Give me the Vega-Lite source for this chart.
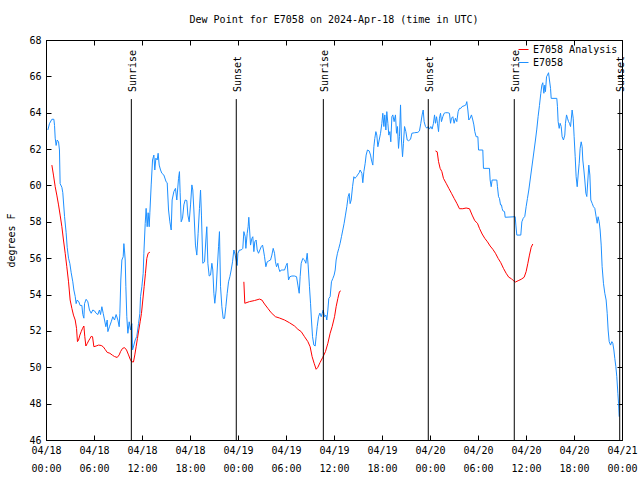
{
  "$schema": "https://vega.github.io/schema/vega-lite/v6.json",
  "width": 576,
  "height": 400,
  "autosize": "none",
  "padding": {"left": 46, "top": 40, "right": 18, "bottom": 40},
  "background": "white",
  "title": {"text": "Dew Point for E7058 on 2024-Apr-18 (time in UTC)", "font": "DejaVu Sans Mono", "fontSize": 10, "fontWeight": "normal", "color": "black", "offset": 10},
  "config": {"view": {"stroke": "black", "strokeWidth": 1}},
  "datasets": {
    "obs": [
      {"t":"2024-04-18T00:14Z","v":63.05},{"t":"2024-04-18T00:26Z","v":63.4},{"t":"2024-04-18T00:44Z","v":63.64},{"t":"2024-04-18T00:59Z","v":63.64},{"t":"2024-04-18T01:04Z","v":63.3},{"t":"2024-04-18T01:09Z","v":62.6},{"t":"2024-04-18T01:16Z","v":62.2},{"t":"2024-04-18T01:24Z","v":62.5},{"t":"2024-04-18T01:34Z","v":62.4},{"t":"2024-04-18T01:41Z","v":61.95},{"t":"2024-04-18T01:46Z","v":60.1},{"t":"2024-04-18T01:59Z","v":59.9},{"t":"2024-04-18T02:06Z","v":59.6},{"t":"2024-04-18T02:19Z","v":58.3},{"t":"2024-04-18T02:31Z","v":57.4},{"t":"2024-04-18T02:39Z","v":56.6},{"t":"2024-04-18T02:49Z","v":56.0},{"t":"2024-04-18T02:59Z","v":55.7},{"t":"2024-04-18T03:09Z","v":55.2},{"t":"2024-04-18T03:21Z","v":54.7},{"t":"2024-04-18T03:29Z","v":54.25},{"t":"2024-04-18T03:39Z","v":53.9},{"t":"2024-04-18T03:46Z","v":53.5},{"t":"2024-04-18T03:54Z","v":53.7},{"t":"2024-04-18T04:06Z","v":53.6},{"t":"2024-04-18T04:16Z","v":53.4},{"t":"2024-04-18T04:29Z","v":53.4},{"t":"2024-04-18T04:36Z","v":52.9},{"t":"2024-04-18T04:44Z","v":52.7},{"t":"2024-04-18T04:49Z","v":53.5},{"t":"2024-04-18T05:01Z","v":53.74},{"t":"2024-04-18T05:14Z","v":53.6},{"t":"2024-04-18T05:26Z","v":53.15},{"t":"2024-04-18T05:39Z","v":52.97},{"t":"2024-04-18T05:51Z","v":53.15},{"t":"2024-04-18T06:04Z","v":53.1},{"t":"2024-04-18T06:16Z","v":52.97},{"t":"2024-04-18T06:29Z","v":52.9},{"t":"2024-04-18T06:41Z","v":53.15},{"t":"2024-04-18T06:49Z","v":52.9},{"t":"2024-04-18T06:59Z","v":53.33},{"t":"2024-04-18T07:09Z","v":52.97},{"t":"2024-04-18T07:19Z","v":52.6},{"t":"2024-04-18T07:29Z","v":52.23},{"t":"2024-04-18T07:39Z","v":52.6},{"t":"2024-04-18T07:44Z","v":51.96},{"t":"2024-04-18T07:56Z","v":52.23},{"t":"2024-04-18T08:09Z","v":52.5},{"t":"2024-04-18T08:21Z","v":52.78},{"t":"2024-04-18T08:34Z","v":52.6},{"t":"2024-04-18T08:46Z","v":52.9},{"t":"2024-04-18T08:59Z","v":52.6},{"t":"2024-04-18T09:09Z","v":52.23},{"t":"2024-04-18T09:14Z","v":52.97},{"t":"2024-04-18T09:21Z","v":54.8},{"t":"2024-04-18T09:29Z","v":55.9},{"t":"2024-04-18T09:39Z","v":56.08},{"t":"2024-04-18T09:44Z","v":56.8},{"t":"2024-04-18T09:49Z","v":56.4},{"t":"2024-04-18T09:54Z","v":55.9},{"t":"2024-04-18T09:59Z","v":54.43},{"t":"2024-04-18T10:06Z","v":52.78},{"t":"2024-04-18T10:14Z","v":51.87},{"t":"2024-04-18T10:24Z","v":52.5},{"t":"2024-04-18T10:34Z","v":52.05},{"t":"2024-04-18T10:44Z","v":52.4},{"t":"2024-04-18T10:49Z","v":50.95},{"t":"2024-04-18T10:59Z","v":51.22},{"t":"2024-04-18T11:09Z","v":51.5},{"t":"2024-04-18T11:21Z","v":51.7},{"t":"2024-04-18T11:34Z","v":52.4},{"t":"2024-04-18T11:44Z","v":52.97},{"t":"2024-04-18T11:49Z","v":53.9},{"t":"2024-04-18T11:59Z","v":54.43},{"t":"2024-04-18T12:09Z","v":55.17},{"t":"2024-04-18T12:14Z","v":56.27},{"t":"2024-04-18T12:24Z","v":57.9},{"t":"2024-04-18T12:31Z","v":58.74},{"t":"2024-04-18T12:39Z","v":57.73},{"t":"2024-04-18T12:46Z","v":58.5},{"t":"2024-04-18T12:54Z","v":57.73},{"t":"2024-04-18T12:59Z","v":58.5},{"t":"2024-04-18T13:09Z","v":60.03},{"t":"2024-04-18T13:19Z","v":61.4},{"t":"2024-04-18T13:29Z","v":61.67},{"t":"2024-04-18T13:36Z","v":60.85},{"t":"2024-04-18T13:44Z","v":61.5},{"t":"2024-04-18T13:54Z","v":61.4},{"t":"2024-04-18T14:01Z","v":61.77},{"t":"2024-04-18T14:09Z","v":61.12},{"t":"2024-04-18T14:19Z","v":60.85},{"t":"2024-04-18T14:29Z","v":60.67},{"t":"2024-04-18T14:44Z","v":60.57},{"t":"2024-04-18T15:01Z","v":60.2},{"t":"2024-04-18T15:09Z","v":60.15},{"t":"2024-04-18T15:19Z","v":58.65},{"t":"2024-04-18T15:29Z","v":58.0},{"t":"2024-04-18T15:39Z","v":57.55},{"t":"2024-04-18T15:46Z","v":59.2},{"t":"2024-04-18T15:59Z","v":59.66},{"t":"2024-04-18T16:11Z","v":59.84},{"t":"2024-04-18T16:21Z","v":59.2},{"t":"2024-04-18T16:34Z","v":60.39},{"t":"2024-04-18T16:41Z","v":60.76},{"t":"2024-04-18T16:46Z","v":59.6},{"t":"2024-04-18T16:54Z","v":58.0},{"t":"2024-04-18T17:04Z","v":58.2},{"t":"2024-04-18T17:14Z","v":58.93},{"t":"2024-04-18T17:24Z","v":59.2},{"t":"2024-04-18T17:36Z","v":59.17},{"t":"2024-04-18T17:44Z","v":58.37},{"t":"2024-04-18T17:54Z","v":58.0},{"t":"2024-04-18T18:04Z","v":58.93},{"t":"2024-04-18T18:14Z","v":60.03},{"t":"2024-04-18T18:21Z","v":59.75},{"t":"2024-04-18T18:29Z","v":58.65},{"t":"2024-04-18T18:41Z","v":56.72},{"t":"2024-04-18T18:51Z","v":56.17},{"t":"2024-04-18T19:01Z","v":57.37},{"t":"2024-04-18T19:11Z","v":58.74},{"t":"2024-04-18T19:19Z","v":59.75},{"t":"2024-04-18T19:26Z","v":58.37},{"t":"2024-04-18T19:36Z","v":55.72},{"t":"2024-04-18T19:49Z","v":55.8},{"t":"2024-04-18T19:59Z","v":57.0},{"t":"2024-04-18T20:06Z","v":57.73},{"t":"2024-04-18T20:14Z","v":55.72},{"t":"2024-04-18T20:24Z","v":55.02},{"t":"2024-04-18T20:34Z","v":55.07},{"t":"2024-04-18T20:44Z","v":55.72},{"t":"2024-04-18T20:51Z","v":55.35},{"t":"2024-04-18T20:59Z","v":54.07},{"t":"2024-04-18T21:06Z","v":53.52},{"t":"2024-04-18T21:16Z","v":54.25},{"t":"2024-04-18T21:24Z","v":55.35},{"t":"2024-04-18T21:34Z","v":56.63},{"t":"2024-04-18T21:41Z","v":57.46},{"t":"2024-04-18T21:49Z","v":54.43},{"t":"2024-04-18T21:59Z","v":53.33},{"t":"2024-04-18T22:09Z","v":52.69},{"t":"2024-04-18T22:19Z","v":52.69},{"t":"2024-04-18T22:29Z","v":53.33},{"t":"2024-04-18T22:39Z","v":54.07},{"t":"2024-04-18T22:49Z","v":54.7},{"t":"2024-04-18T22:59Z","v":54.98},{"t":"2024-04-18T23:09Z","v":55.35},{"t":"2024-04-18T23:19Z","v":55.8},{"t":"2024-04-18T23:29Z","v":56.45},{"t":"2024-04-18T23:39Z","v":56.17},{"t":"2024-04-18T23:46Z","v":55.9},{"t":"2024-04-18T23:54Z","v":55.6},{"t":"2024-04-18T23:59Z","v":56.27},
      {"t":"2024-04-19T00:11Z","v":56.45},{"t":"2024-04-19T00:24Z","v":56.45},{"t":"2024-04-19T00:36Z","v":56.54},{"t":"2024-04-19T00:44Z","v":57.46},{"t":"2024-04-19T00:54Z","v":57.18},{"t":"2024-04-19T00:59Z","v":56.54},{"t":"2024-04-19T01:09Z","v":57.37},{"t":"2024-04-19T01:16Z","v":57.73},{"t":"2024-04-19T01:21Z","v":58.25},{"t":"2024-04-19T01:27Z","v":57.55},{"t":"2024-04-19T01:34Z","v":56.72},{"t":"2024-04-19T01:44Z","v":57.09},{"t":"2024-04-19T01:51Z","v":57.18},{"t":"2024-04-19T01:59Z","v":56.36},{"t":"2024-04-19T02:06Z","v":56.9},{"t":"2024-04-19T02:16Z","v":57.0},{"t":"2024-04-19T02:24Z","v":56.45},{"t":"2024-04-19T02:34Z","v":56.27},{"t":"2024-04-19T02:44Z","v":56.45},{"t":"2024-04-19T02:54Z","v":56.63},{"t":"2024-04-19T03:04Z","v":56.72},{"t":"2024-04-19T03:11Z","v":56.45},{"t":"2024-04-19T03:19Z","v":56.08},{"t":"2024-04-19T03:29Z","v":55.53},{"t":"2024-04-19T03:39Z","v":55.8},{"t":"2024-04-19T03:51Z","v":55.85},{"t":"2024-04-19T04:04Z","v":55.9},{"t":"2024-04-19T04:14Z","v":56.17},{"t":"2024-04-19T04:24Z","v":56.54},{"t":"2024-04-19T04:34Z","v":56.27},{"t":"2024-04-19T04:41Z","v":55.8},{"t":"2024-04-19T04:49Z","v":55.53},{"t":"2024-04-19T04:59Z","v":55.72},{"t":"2024-04-19T05:06Z","v":55.44},{"t":"2024-04-19T05:14Z","v":55.26},{"t":"2024-04-19T05:24Z","v":55.35},{"t":"2024-04-19T05:36Z","v":55.35},{"t":"2024-04-19T05:49Z","v":55.35},{"t":"2024-04-19T06:01Z","v":55.6},{"t":"2024-04-19T06:09Z","v":55.72},{"t":"2024-04-19T06:19Z","v":54.8},{"t":"2024-04-19T06:29Z","v":54.98},{"t":"2024-04-19T06:44Z","v":55.02},{"t":"2024-04-19T07:04Z","v":55.02},{"t":"2024-04-19T07:19Z","v":54.98},{"t":"2024-04-19T07:29Z","v":54.52},{"t":"2024-04-19T07:39Z","v":54.07},{"t":"2024-04-19T07:46Z","v":54.98},{"t":"2024-04-19T07:54Z","v":55.72},{"t":"2024-04-19T08:06Z","v":55.99},{"t":"2024-04-19T08:19Z","v":55.9},{"t":"2024-04-19T08:29Z","v":55.72},{"t":"2024-04-19T08:39Z","v":56.27},{"t":"2024-04-19T08:46Z","v":55.63},{"t":"2024-04-19T08:56Z","v":54.43},{"t":"2024-04-19T09:04Z","v":53.52},{"t":"2024-04-19T09:11Z","v":52.6},{"t":"2024-04-19T09:19Z","v":51.68},{"t":"2024-04-19T09:29Z","v":51.22},{"t":"2024-04-19T09:39Z","v":51.17},{"t":"2024-04-19T09:46Z","v":51.68},{"t":"2024-04-19T09:54Z","v":52.23},{"t":"2024-04-19T10:04Z","v":52.78},{"t":"2024-04-19T10:14Z","v":52.98},{"t":"2024-04-19T10:24Z","v":52.78},{"t":"2024-04-19T10:31Z","v":52.95},{"t":"2024-04-19T10:39Z","v":53.15},{"t":"2024-04-19T10:49Z","v":52.78},{"t":"2024-04-19T10:59Z","v":52.87},{"t":"2024-04-19T11:06Z","v":52.6},{"t":"2024-04-19T11:14Z","v":53.15},{"t":"2024-04-19T11:21Z","v":53.79},{"t":"2024-04-19T11:31Z","v":53.88},{"t":"2024-04-19T11:41Z","v":54.7},{"t":"2024-04-19T11:51Z","v":54.88},{"t":"2024-04-19T12:01Z","v":55.07},{"t":"2024-04-19T12:09Z","v":55.35},{"t":"2024-04-19T12:16Z","v":55.9},{"t":"2024-04-19T12:26Z","v":56.27},{"t":"2024-04-19T12:36Z","v":56.54},{"t":"2024-04-19T12:46Z","v":56.82},{"t":"2024-04-19T12:56Z","v":57.18},{"t":"2024-04-19T13:06Z","v":57.55},{"t":"2024-04-19T13:16Z","v":57.92},{"t":"2024-04-19T13:26Z","v":58.37},{"t":"2024-04-19T13:36Z","v":58.83},{"t":"2024-04-19T13:46Z","v":59.38},{"t":"2024-04-19T13:54Z","v":59.56},{"t":"2024-04-19T14:01Z","v":59.0},{"t":"2024-04-19T14:09Z","v":59.2},{"t":"2024-04-19T14:19Z","v":59.93},{"t":"2024-04-19T14:29Z","v":60.48},{"t":"2024-04-19T14:36Z","v":60.39},{"t":"2024-04-19T14:49Z","v":60.48},{"t":"2024-04-19T14:56Z","v":60.57},{"t":"2024-04-19T15:09Z","v":60.7},{"t":"2024-04-19T15:16Z","v":60.85},{"t":"2024-04-19T15:29Z","v":60.67},{"t":"2024-04-19T15:36Z","v":60.15},{"t":"2024-04-19T15:44Z","v":60.76},{"t":"2024-04-19T15:54Z","v":61.22},{"t":"2024-04-19T16:01Z","v":61.67},{"t":"2024-04-19T16:11Z","v":61.95},{"t":"2024-04-19T16:24Z","v":61.9},{"t":"2024-04-19T16:34Z","v":61.67},{"t":"2024-04-19T16:41Z","v":61.4},{"t":"2024-04-19T16:51Z","v":61.12},{"t":"2024-04-19T16:59Z","v":62.13},{"t":"2024-04-19T17:06Z","v":62.59},{"t":"2024-04-19T17:14Z","v":62.96},{"t":"2024-04-19T17:21Z","v":62.77},{"t":"2024-04-19T17:29Z","v":62.13},{"t":"2024-04-19T17:39Z","v":62.5},{"t":"2024-04-19T17:49Z","v":62.87},{"t":"2024-04-19T17:59Z","v":63.42},{"t":"2024-04-19T18:06Z","v":63.97},{"t":"2024-04-19T18:14Z","v":63.24},{"t":"2024-04-19T18:21Z","v":63.88},{"t":"2024-04-19T18:29Z","v":63.05},{"t":"2024-04-19T18:36Z","v":64.06},{"t":"2024-04-19T18:44Z","v":63.42},{"t":"2024-04-19T18:51Z","v":62.77},{"t":"2024-04-19T18:59Z","v":62.96},{"t":"2024-04-19T19:06Z","v":62.4},{"t":"2024-04-19T19:14Z","v":63.78},{"t":"2024-04-19T19:21Z","v":63.88},{"t":"2024-04-19T19:31Z","v":63.51},{"t":"2024-04-19T19:41Z","v":63.88},{"t":"2024-04-19T19:49Z","v":62.87},{"t":"2024-04-19T19:56Z","v":63.24},{"t":"2024-04-19T20:04Z","v":62.04},{"t":"2024-04-19T20:11Z","v":62.68},{"t":"2024-04-19T20:19Z","v":64.43},{"t":"2024-04-19T20:26Z","v":62.5},{"t":"2024-04-19T20:34Z","v":61.58},{"t":"2024-04-19T20:41Z","v":62.32},{"t":"2024-04-19T20:49Z","v":63.24},{"t":"2024-04-19T20:59Z","v":62.96},{"t":"2024-04-19T21:09Z","v":62.5},{"t":"2024-04-19T21:19Z","v":62.46},{"t":"2024-04-19T21:34Z","v":62.54},{"t":"2024-04-19T21:44Z","v":62.87},{"t":"2024-04-19T22:04Z","v":62.9},{"t":"2024-04-19T22:29Z","v":62.92},{"t":"2024-04-19T22:41Z","v":63.0},{"t":"2024-04-19T22:51Z","v":63.42},{"t":"2024-04-19T23:01Z","v":63.88},{"t":"2024-04-19T23:09Z","v":64.15},{"t":"2024-04-19T23:16Z","v":63.51},{"t":"2024-04-19T23:26Z","v":63.24},{"t":"2024-04-19T23:36Z","v":63.15},{"t":"2024-04-19T23:46Z","v":63.24},{"t":"2024-04-19T23:56Z","v":63.1},
      {"t":"2024-04-20T00:06Z","v":63.24},{"t":"2024-04-20T00:16Z","v":63.1},{"t":"2024-04-20T00:26Z","v":63.42},{"t":"2024-04-20T00:34Z","v":63.88},{"t":"2024-04-20T00:41Z","v":63.42},{"t":"2024-04-20T00:49Z","v":63.78},{"t":"2024-04-20T00:56Z","v":63.42},{"t":"2024-04-20T01:04Z","v":62.96},{"t":"2024-04-20T01:11Z","v":63.7},{"t":"2024-04-20T01:19Z","v":63.97},{"t":"2024-04-20T01:26Z","v":63.51},{"t":"2024-04-20T01:36Z","v":63.78},{"t":"2024-04-20T01:46Z","v":63.97},{"t":"2024-04-20T01:56Z","v":64.0},{"t":"2024-04-20T02:14Z","v":64.0},{"t":"2024-04-20T02:26Z","v":63.97},{"t":"2024-04-20T02:34Z","v":63.42},{"t":"2024-04-20T02:41Z","v":63.7},{"t":"2024-04-20T02:51Z","v":63.78},{"t":"2024-04-20T03:01Z","v":63.42},{"t":"2024-04-20T03:11Z","v":63.7},{"t":"2024-04-20T03:21Z","v":63.51},{"t":"2024-04-20T03:31Z","v":64.06},{"t":"2024-04-20T03:41Z","v":64.24},{"t":"2024-04-20T03:51Z","v":64.24},{"t":"2024-04-20T04:01Z","v":64.34},{"t":"2024-04-20T04:16Z","v":64.38},{"t":"2024-04-20T04:29Z","v":64.43},{"t":"2024-04-20T04:36Z","v":64.61},{"t":"2024-04-20T04:44Z","v":64.15},{"t":"2024-04-20T04:51Z","v":63.6},{"t":"2024-04-20T05:01Z","v":63.7},{"t":"2024-04-20T05:11Z","v":63.88},{"t":"2024-04-20T05:21Z","v":63.6},{"t":"2024-04-20T05:29Z","v":63.33},{"t":"2024-04-20T05:36Z","v":62.96},{"t":"2024-04-20T05:46Z","v":62.68},{"t":"2024-04-20T05:59Z","v":62.68},{"t":"2024-04-20T06:04Z","v":61.95},{"t":"2024-04-20T06:36Z","v":61.95},{"t":"2024-04-20T06:41Z","v":60.94},{"t":"2024-04-20T07:26Z","v":60.94},{"t":"2024-04-20T07:31Z","v":60.3},{"t":"2024-04-20T07:39Z","v":59.93},{"t":"2024-04-20T07:46Z","v":60.3},{"t":"2024-04-20T08:21Z","v":60.3},{"t":"2024-04-20T08:26Z","v":59.93},{"t":"2024-04-20T08:34Z","v":59.38},{"t":"2024-04-20T08:41Z","v":59.29},{"t":"2024-04-20T08:49Z","v":58.93},{"t":"2024-04-20T08:56Z","v":58.93},{"t":"2024-04-20T09:01Z","v":58.74},{"t":"2024-04-20T09:06Z","v":58.61},{"t":"2024-04-20T09:19Z","v":58.56},{"t":"2024-04-20T09:24Z","v":58.25},{"t":"2024-04-20T10:39Z","v":58.28},{"t":"2024-04-20T10:44Z","v":57.82},{"t":"2024-04-20T10:51Z","v":57.27},{"t":"2024-04-20T11:21Z","v":57.27},{"t":"2024-04-20T11:29Z","v":58.0},{"t":"2024-04-20T11:39Z","v":58.19},{"t":"2024-04-20T11:51Z","v":58.3},{"t":"2024-04-20T12:01Z","v":58.83},{"t":"2024-04-20T12:11Z","v":59.29},{"t":"2024-04-20T12:21Z","v":59.75},{"t":"2024-04-20T12:31Z","v":60.3},{"t":"2024-04-20T12:41Z","v":60.85},{"t":"2024-04-20T12:51Z","v":61.4},{"t":"2024-04-20T13:01Z","v":61.95},{"t":"2024-04-20T13:11Z","v":62.5},{"t":"2024-04-20T13:21Z","v":63.1},{"t":"2024-04-20T13:31Z","v":63.8},{"t":"2024-04-20T13:41Z","v":64.4},{"t":"2024-04-20T13:51Z","v":65.07},{"t":"2024-04-20T13:59Z","v":65.52},{"t":"2024-04-20T14:06Z","v":65.65},{"t":"2024-04-20T14:14Z","v":65.07},{"t":"2024-04-20T14:21Z","v":65.52},{"t":"2024-04-20T14:26Z","v":65.16},{"t":"2024-04-20T14:34Z","v":65.98},{"t":"2024-04-20T14:41Z","v":66.07},{"t":"2024-04-20T14:49Z","v":66.2},{"t":"2024-04-20T14:56Z","v":65.8},{"t":"2024-04-20T15:04Z","v":65.34},{"t":"2024-04-20T15:09Z","v":64.79},{"t":"2024-04-20T15:51Z","v":64.79},{"t":"2024-04-20T15:56Z","v":64.33},{"t":"2024-04-20T16:01Z","v":63.51},{"t":"2024-04-20T16:09Z","v":63.14},{"t":"2024-04-20T16:16Z","v":63.42},{"t":"2024-04-20T16:24Z","v":63.24},{"t":"2024-04-20T16:31Z","v":62.68},{"t":"2024-04-20T16:41Z","v":62.5},{"t":"2024-04-20T16:51Z","v":62.77},{"t":"2024-04-20T16:56Z","v":63.42},{"t":"2024-04-20T17:04Z","v":63.88},{"t":"2024-04-20T17:11Z","v":63.7},{"t":"2024-04-20T17:19Z","v":63.51},{"t":"2024-04-20T17:26Z","v":63.42},{"t":"2024-04-20T17:34Z","v":63.24},{"t":"2024-04-20T17:39Z","v":63.6},{"t":"2024-04-20T17:46Z","v":64.15},{"t":"2024-04-20T17:54Z","v":63.7},{"t":"2024-04-20T18:01Z","v":62.68},{"t":"2024-04-20T18:09Z","v":61.58},{"t":"2024-04-20T18:16Z","v":60.48},{"t":"2024-04-20T18:24Z","v":59.93},{"t":"2024-04-20T18:31Z","v":60.57},{"t":"2024-04-20T18:39Z","v":61.22},{"t":"2024-04-20T18:46Z","v":62.04},{"t":"2024-04-20T18:54Z","v":62.4},{"t":"2024-04-20T19:01Z","v":62.13},{"t":"2024-04-20T19:06Z","v":61.4},{"t":"2024-04-20T19:14Z","v":60.85},{"t":"2024-04-20T19:21Z","v":60.3},{"t":"2024-04-20T19:29Z","v":59.57},{"t":"2024-04-20T19:36Z","v":59.39},{"t":"2024-04-20T19:44Z","v":60.3},{"t":"2024-04-20T19:51Z","v":61.12},{"t":"2024-04-20T19:59Z","v":60.57},{"t":"2024-04-20T20:06Z","v":59.2},{"t":"2024-04-20T20:16Z","v":59.02},{"t":"2024-04-20T20:26Z","v":58.83},{"t":"2024-04-20T20:36Z","v":58.74},{"t":"2024-04-20T20:46Z","v":58.28},{"t":"2024-04-20T20:54Z","v":57.92},{"t":"2024-04-20T21:01Z","v":58.28},{"t":"2024-04-20T21:09Z","v":58.0},{"t":"2024-04-20T21:16Z","v":57.55},{"t":"2024-04-20T21:24Z","v":56.72},{"t":"2024-04-20T21:31Z","v":55.53},{"t":"2024-04-20T21:41Z","v":54.62},{"t":"2024-04-20T21:51Z","v":54.07},{"t":"2024-04-20T22:01Z","v":53.7},{"t":"2024-04-20T22:09Z","v":52.97},{"t":"2024-04-20T22:16Z","v":52.05},{"t":"2024-04-20T22:24Z","v":51.41},{"t":"2024-04-20T22:34Z","v":51.22},{"t":"2024-04-20T22:44Z","v":51.41},{"t":"2024-04-20T22:51Z","v":51.32},{"t":"2024-04-20T22:59Z","v":50.95},{"t":"2024-04-20T23:06Z","v":50.49},{"t":"2024-04-20T23:14Z","v":50.03},{"t":"2024-04-20T23:21Z","v":49.48},{"t":"2024-04-20T23:29Z","v":48.57},{"t":"2024-04-20T23:34Z","v":48.02},{"t":"2024-04-20T23:39Z","v":47.28}
    ],
    "ana": [
      {"t":"2024-04-18T00:44Z","v":61.12,"g":"a"},{"t":"2024-04-18T00:56Z","v":60.57,"g":"a"},{"t":"2024-04-18T01:09Z","v":59.93,"g":"a"},{"t":"2024-04-18T01:21Z","v":59.47,"g":"a"},{"t":"2024-04-18T01:34Z","v":58.93,"g":"a"},{"t":"2024-04-18T01:46Z","v":58.37,"g":"a"},{"t":"2024-04-18T01:59Z","v":57.73,"g":"a"},{"t":"2024-04-18T02:11Z","v":57.0,"g":"a"},{"t":"2024-04-18T02:24Z","v":56.27,"g":"a"},{"t":"2024-04-18T02:36Z","v":55.53,"g":"a"},{"t":"2024-04-18T02:49Z","v":54.7,"g":"a"},{"t":"2024-04-18T03:01Z","v":53.7,"g":"a"},{"t":"2024-04-18T03:14Z","v":53.24,"g":"a"},{"t":"2024-04-18T03:26Z","v":52.87,"g":"a"},{"t":"2024-04-18T03:39Z","v":52.6,"g":"a"},{"t":"2024-04-18T03:49Z","v":52.14,"g":"a"},{"t":"2024-04-18T03:56Z","v":51.41,"g":"a"},{"t":"2024-04-18T04:04Z","v":51.5,"g":"a"},{"t":"2024-04-18T04:14Z","v":51.77,"g":"a"},{"t":"2024-04-18T04:24Z","v":51.96,"g":"a"},{"t":"2024-04-18T04:34Z","v":52.14,"g":"a"},{"t":"2024-04-18T04:44Z","v":52.27,"g":"a"},{"t":"2024-04-18T04:51Z","v":51.68,"g":"a"},{"t":"2024-04-18T04:59Z","v":51.17,"g":"a"},{"t":"2024-04-18T05:09Z","v":51.3,"g":"a"},{"t":"2024-04-18T05:19Z","v":51.45,"g":"a"},{"t":"2024-04-18T05:29Z","v":51.57,"g":"a"},{"t":"2024-04-18T05:39Z","v":51.7,"g":"a"},{"t":"2024-04-18T05:49Z","v":51.68,"g":"a"},{"t":"2024-04-18T05:59Z","v":51.13,"g":"a"},{"t":"2024-04-18T06:16Z","v":51.17,"g":"a"},{"t":"2024-04-18T06:34Z","v":51.22,"g":"a"},{"t":"2024-04-18T06:54Z","v":51.2,"g":"a"},{"t":"2024-04-18T07:09Z","v":51.13,"g":"a"},{"t":"2024-04-18T07:24Z","v":50.98,"g":"a"},{"t":"2024-04-18T07:39Z","v":50.82,"g":"a"},{"t":"2024-04-18T07:59Z","v":50.77,"g":"a"},{"t":"2024-04-18T08:19Z","v":50.66,"g":"a"},{"t":"2024-04-18T08:34Z","v":50.59,"g":"a"},{"t":"2024-04-18T08:54Z","v":50.54,"g":"a"},{"t":"2024-04-18T09:09Z","v":50.68,"g":"a"},{"t":"2024-04-18T09:19Z","v":50.86,"g":"a"},{"t":"2024-04-18T09:34Z","v":51.04,"g":"a"},{"t":"2024-04-18T09:49Z","v":51.08,"g":"a"},{"t":"2024-04-18T10:04Z","v":50.95,"g":"a"},{"t":"2024-04-18T10:19Z","v":50.68,"g":"a"},{"t":"2024-04-18T10:31Z","v":50.45,"g":"a"},{"t":"2024-04-18T10:41Z","v":50.31,"g":"a"},{"t":"2024-04-18T10:56Z","v":50.29,"g":"a"},{"t":"2024-04-18T11:06Z","v":50.68,"g":"a"},{"t":"2024-04-18T11:16Z","v":51.13,"g":"a"},{"t":"2024-04-18T11:26Z","v":51.59,"g":"a"},{"t":"2024-04-18T11:36Z","v":52.05,"g":"a"},{"t":"2024-04-18T11:46Z","v":52.5,"g":"a"},{"t":"2024-04-18T11:56Z","v":52.96,"g":"a"},{"t":"2024-04-18T12:06Z","v":53.7,"g":"a"},{"t":"2024-04-18T12:16Z","v":54.43,"g":"a"},{"t":"2024-04-18T12:26Z","v":55.17,"g":"a"},{"t":"2024-04-18T12:36Z","v":55.99,"g":"a"},{"t":"2024-04-18T12:46Z","v":56.27,"g":"a"},{"t":"2024-04-18T12:59Z","v":56.33,"g":"a"},
      {"t":"2024-04-19T00:44Z","v":54.7,"g":"b"},{"t":"2024-04-19T00:51Z","v":53.52,"g":"b"},{"t":"2024-04-19T01:26Z","v":53.61,"g":"b"},{"t":"2024-04-19T02:04Z","v":53.67,"g":"b"},{"t":"2024-04-19T02:41Z","v":53.75,"g":"b"},{"t":"2024-04-19T02:59Z","v":53.7,"g":"b"},{"t":"2024-04-19T03:19Z","v":53.48,"g":"b"},{"t":"2024-04-19T03:44Z","v":53.24,"g":"b"},{"t":"2024-04-19T04:09Z","v":53.0,"g":"b"},{"t":"2024-04-19T04:41Z","v":52.78,"g":"b"},{"t":"2024-04-19T05:11Z","v":52.71,"g":"b"},{"t":"2024-04-19T05:49Z","v":52.6,"g":"b"},{"t":"2024-04-19T06:26Z","v":52.45,"g":"b"},{"t":"2024-04-19T07:04Z","v":52.27,"g":"b"},{"t":"2024-04-19T07:29Z","v":52.09,"g":"b"},{"t":"2024-04-19T07:54Z","v":51.96,"g":"b"},{"t":"2024-04-19T08:19Z","v":51.68,"g":"b"},{"t":"2024-04-19T08:44Z","v":51.41,"g":"b"},{"t":"2024-04-19T09:01Z","v":51.13,"g":"b"},{"t":"2024-04-19T09:16Z","v":50.58,"g":"b"},{"t":"2024-04-19T09:31Z","v":50.22,"g":"b"},{"t":"2024-04-19T09:46Z","v":49.89,"g":"b"},{"t":"2024-04-19T09:59Z","v":50.0,"g":"b"},{"t":"2024-04-19T10:16Z","v":50.27,"g":"b"},{"t":"2024-04-19T10:36Z","v":50.55,"g":"b"},{"t":"2024-04-19T10:56Z","v":50.86,"g":"b"},{"t":"2024-04-19T11:14Z","v":51.32,"g":"b"},{"t":"2024-04-19T11:31Z","v":51.87,"g":"b"},{"t":"2024-04-19T11:46Z","v":52.23,"g":"b"},{"t":"2024-04-19T12:04Z","v":52.78,"g":"b"},{"t":"2024-04-19T12:16Z","v":53.33,"g":"b"},{"t":"2024-04-19T12:29Z","v":53.79,"g":"b"},{"t":"2024-04-19T12:41Z","v":54.16,"g":"b"},{"t":"2024-04-19T12:51Z","v":54.2,"g":"b"},
      {"t":"2024-04-20T00:41Z","v":61.9,"g":"c"},{"t":"2024-04-20T00:54Z","v":61.85,"g":"c"},{"t":"2024-04-20T01:04Z","v":61.31,"g":"c"},{"t":"2024-04-20T01:16Z","v":60.94,"g":"c"},{"t":"2024-04-20T01:29Z","v":60.76,"g":"c"},{"t":"2024-04-20T01:41Z","v":60.39,"g":"c"},{"t":"2024-04-20T02:01Z","v":60.12,"g":"c"},{"t":"2024-04-20T02:21Z","v":59.84,"g":"c"},{"t":"2024-04-20T02:41Z","v":59.57,"g":"c"},{"t":"2024-04-20T03:01Z","v":59.29,"g":"c"},{"t":"2024-04-20T03:21Z","v":59.02,"g":"c"},{"t":"2024-04-20T03:41Z","v":58.72,"g":"c"},{"t":"2024-04-20T04:06Z","v":58.72,"g":"c"},{"t":"2024-04-20T04:31Z","v":58.76,"g":"c"},{"t":"2024-04-20T04:56Z","v":58.72,"g":"c"},{"t":"2024-04-20T05:16Z","v":58.37,"g":"c"},{"t":"2024-04-20T05:36Z","v":58.06,"g":"c"},{"t":"2024-04-20T05:56Z","v":57.92,"g":"c"},{"t":"2024-04-20T06:11Z","v":57.64,"g":"c"},{"t":"2024-04-20T06:31Z","v":57.33,"g":"c"},{"t":"2024-04-20T06:51Z","v":57.09,"g":"c"},{"t":"2024-04-20T07:11Z","v":56.9,"g":"c"},{"t":"2024-04-20T07:31Z","v":56.67,"g":"c"},{"t":"2024-04-20T07:51Z","v":56.49,"g":"c"},{"t":"2024-04-20T08:11Z","v":56.27,"g":"c"},{"t":"2024-04-20T08:31Z","v":55.99,"g":"c"},{"t":"2024-04-20T08:51Z","v":55.75,"g":"c"},{"t":"2024-04-20T09:11Z","v":55.44,"g":"c"},{"t":"2024-04-20T09:31Z","v":55.17,"g":"c"},{"t":"2024-04-20T09:51Z","v":54.95,"g":"c"},{"t":"2024-04-20T10:11Z","v":54.87,"g":"c"},{"t":"2024-04-20T10:26Z","v":54.76,"g":"c"},{"t":"2024-04-20T10:41Z","v":54.69,"g":"c"},{"t":"2024-04-20T11:01Z","v":54.76,"g":"c"},{"t":"2024-04-20T11:24Z","v":54.84,"g":"c"},{"t":"2024-04-20T11:46Z","v":54.95,"g":"c"},{"t":"2024-04-20T12:01Z","v":55.26,"g":"c"},{"t":"2024-04-20T12:14Z","v":55.72,"g":"c"},{"t":"2024-04-20T12:26Z","v":56.17,"g":"c"},{"t":"2024-04-20T12:39Z","v":56.6,"g":"c"},{"t":"2024-04-20T12:51Z","v":56.78,"g":"c"}
    ],
    "sun": [
      {"t":"2024-04-18T10:40Z","label":"Sunrise"},
      {"t":"2024-04-18T23:47Z","label":"Sunset"},
      {"t":"2024-04-19T10:40Z","label":"Sunrise"},
      {"t":"2024-04-19T23:47Z","label":"Sunset"},
      {"t":"2024-04-20T10:32Z","label":"Sunrise"},
      {"t":"2024-04-20T23:43Z","label":"Sunset"}
    ]
  },
  "layer": [
    {
      "data": {"name": "obs"},
      "mark": {"type": "line", "strokeWidth": 1},
      "encoding": {
        "x": {"field": "t", "type": "temporal",
          "scale": {"type": "utc", "domain": [{"year": 2024, "month": 4, "date": 18, "utc": true}, {"year": 2024, "month": 4, "date": 21, "utc": true}], "nice": false},
          "axis": {"title": null, "grid": false, "domainColor": "black", "tickCount": 12, "tickColor": "black", "tickSize": -5,
            "labelExpr": "[utcFormat(datum.value, '%m/%d'), utcFormat(datum.value, '%H:%M')]",
            "labelOverlap": false, "labelFlush": false, "labelFont": "DejaVu Sans Mono", "labelFontSize": 10,
            "labelColor": "black", "labelPadding": 10, "labelLineHeight": 18}},
        "y": {"field": "v", "type": "quantitative",
          "scale": {"domain": [46, 68], "nice": false, "zero": false},
          "axis": {"title": "degrees F", "titleFont": "DejaVu Sans Mono", "titleFontSize": 10,
            "titleFontWeight": "normal", "titleColor": "black", "titlePadding": 12, "grid": false,
            "tickCount": 11, "tickSize": -5, "tickColor": "black",
            "domainColor": "black", "labelFont": "DejaVu Sans Mono", "labelFontSize": 10, "labelColor": "black",
            "labelPadding": 10, "labelFlush": false}},
        "color": {"datum": "E7058", "type": "nominal",
          "scale": {"domain": ["E7058 Analysis", "E7058"], "range": ["#ff0000", "#1e90ff"]},
          "legend": {"title": null, "orient": "top-right", "offset": 4, "symbolType": "stroke", "symbolStrokeWidth": 1,
            "labelFont": "DejaVu Sans Mono", "labelFontSize": 10, "labelColor": "black"}}
      }
    },
    {
      "data": {"name": "ana"},
      "mark": {"type": "line", "strokeWidth": 1},
      "encoding": {
        "x": {"field": "t", "type": "temporal",
          "axis": {"orient": "top", "title": null, "grid": false, "labels": false, "domainColor": "black",
            "tickCount": 12, "tickColor": "black", "tickSize": -5}},
        "y": {"field": "v", "type": "quantitative",
          "axis": {"orient": "right", "title": null, "grid": false, "labels": false, "domainColor": "black",
            "tickCount": 11, "tickColor": "black", "tickSize": -5}},
        "color": {"datum": "E7058 Analysis", "type": "nominal"},
        "detail": {"field": "g", "type": "nominal"}
      }
    },
    {
      "data": {"name": "sun"},
      "mark": {"type": "rule", "color": "black", "strokeWidth": 1},
      "encoding": {
        "x": {"field": "t", "type": "temporal", "axis": null},
        "y": {"datum": 64.75, "type": "quantitative", "axis": null},
        "y2": {"datum": 46}
      }
    },
    {
      "data": {"name": "sun"},
      "mark": {"type": "text", "angle": 270, "align": "left", "baseline": "middle", "dy": 1.5,
        "font": "DejaVu Sans Mono", "fontSize": 10, "color": "black"},
      "encoding": {
        "x": {"field": "t", "type": "temporal", "axis": null},
        "y": {"datum": 65.14, "type": "quantitative", "axis": null},
        "text": {"field": "label", "type": "nominal"}
      }
    }
  ],
  "resolve": {"axis": {"x": "independent", "y": "independent"}}
}
